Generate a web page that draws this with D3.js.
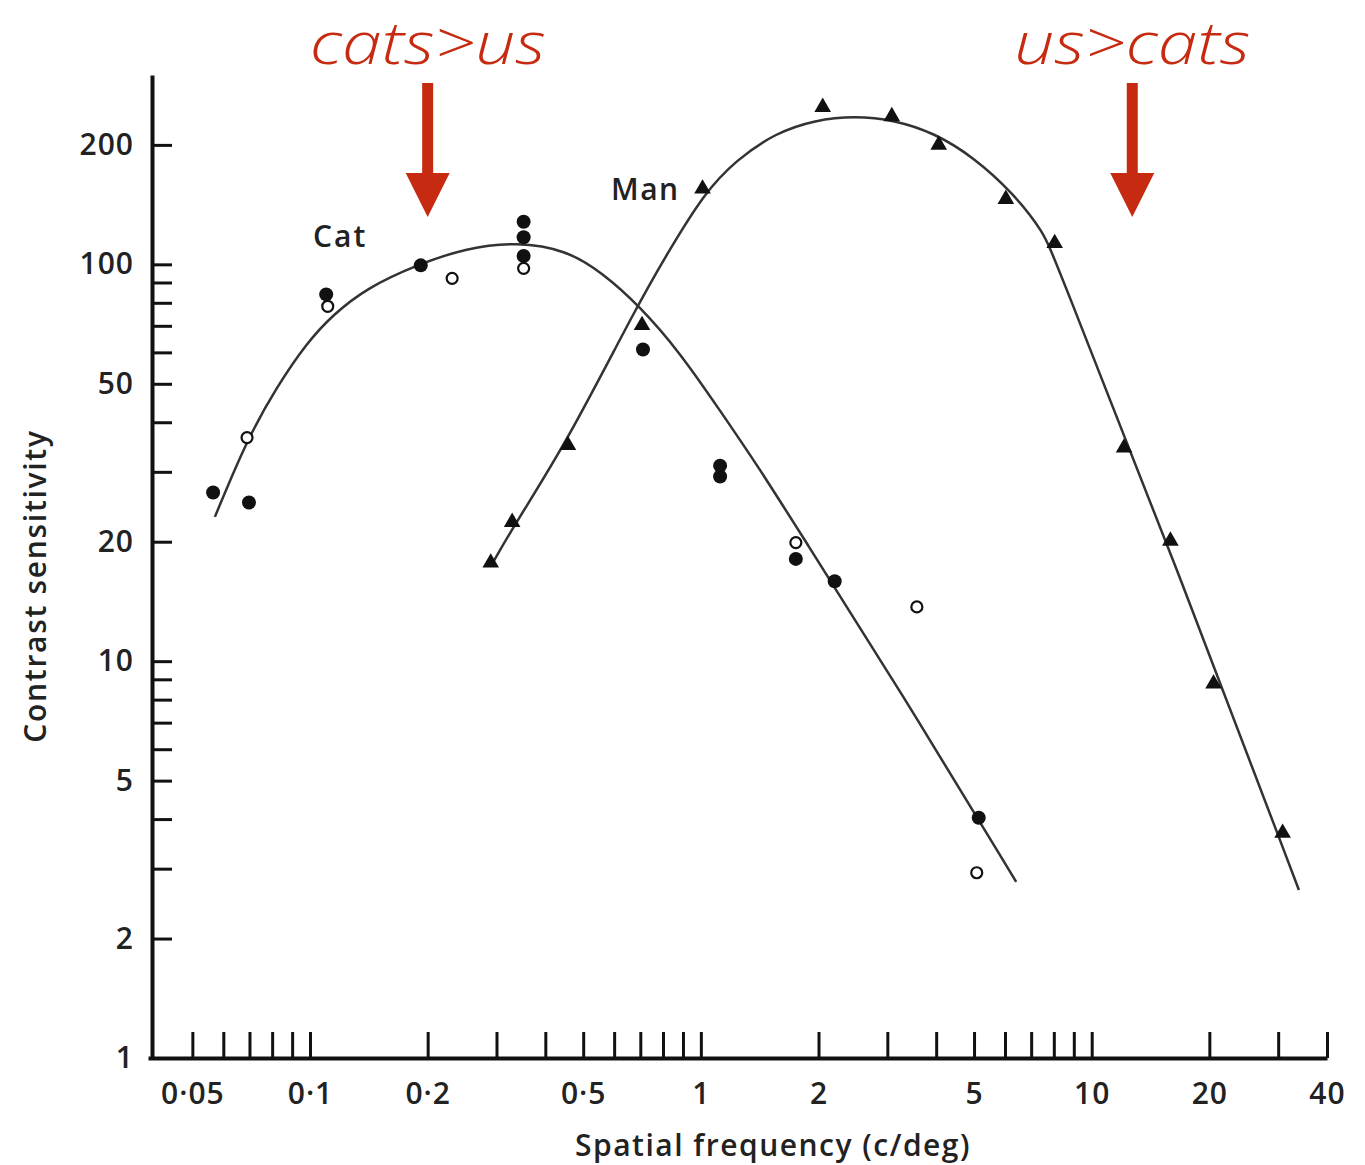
<!DOCTYPE html>
<html>
<head>
<meta charset="utf-8">
<script src="https://cdn.jsdelivr.net/npm/d3@7"></script>
<style>
  body { margin: 0; background: #fff; }
  svg { display: block; }
</style>
</head>
<body>
<div id="chart"></div>
<script>
// tick values (log axes)
var xTicks = [0.05, 0.06, 0.07, 0.08, 0.09, 0.1, 0.2, 0.3, 0.4, 0.5, 0.6, 0.7, 0.8, 0.9, 1, 2, 3, 4, 5, 6, 7, 8, 9, 10, 20, 30, 40];
var xLabels = [0.05, 0.1, 0.2, 0.5, 1, 2, 5, 10, 20, 40];
var yTicks = [2, 3, 4, 5, 6, 7, 8, 9, 10, 20, 30, 40, 50, 60, 70, 80, 90, 100, 200];
var yLabels = [1, 2, 5, 10, 20, 50, 100, 200];

// cat, filled circles
var catFilledX = [0.0565, 0.0698, 0.110, 0.192, 0.352, 0.352, 0.352, 0.711, 1.12, 1.12, 1.75, 2.20, 5.14];
var catFilledY = [26.6, 25.1, 84, 99.4, 128, 117, 105, 61, 31.1, 29.2, 18.1, 15.9, 4.03];
// cat, open circles
var catOpenX = [0.069, 0.111, 0.231, 0.352, 1.75, 3.57, 5.08];
var catOpenY = [36.6, 78.4, 92.2, 97.7, 19.9, 13.7, 2.93];
// man, triangles
var manX = [0.290, 0.329, 0.457, 0.707, 1.01, 2.05, 3.08, 4.06, 6.03, 8.04, 12.1, 15.9, 20.5, 30.8];
var manY = [17.7, 22.4, 35.0, 70.2, 155, 249, 236, 200, 146, 113, 34.5, 20.1, 8.77, 3.69];

// fitted curves
var catCurveX = [0.0571, 0.0689, 0.0822, 0.0981, 0.1144, 0.1397, 0.1875, 0.2517, 0.3378, 0.4532, 0.5604, 0.6926, 0.8816, 1.116, 1.412, 1.787, 3.23, 6.41];
var catCurveY = [23.1, 36.1, 49.1, 63.4, 74.6, 87.2, 99.7, 110.0, 113.9, 108.7, 95.1, 79.0, 60.2, 43.0, 30.6, 21.2, 8.45, 2.78];
var manCurveX = [0.2915, 0.3357, 0.4532, 0.6885, 0.8311, 1.021, 1.233, 1.551, 1.963, 2.470, 3.126, 3.955, 4.977, 6.297, 7.556, 8.015, 16.4, 33.9];
var manCurveY = [17.5, 22.3, 35.5, 79.0, 108.7, 151.3, 183.3, 214.4, 231.1, 236.6, 231.1, 214.4, 186.5, 151.3, 120.0, 103.8, 17.5, 2.65];

// annotations
var notes = [
  {text: "cats>us", freq: 0.2},
  {text: "us>cats", freq: 12.7}
];

var W = 1365, H = 1165;
var font = "'Open Sans', 'DejaVu Sans', sans-serif";
var red = "#c62a10";
var ink = "#222";

var svg = d3.select("#chart").append("svg")
  .attr("width", W)
  .attr("height", H);

var x = d3.scaleLog().domain([0.0385, 40]).range([148, 1327]);
var y = d3.scaleLog().domain([1, 300]).range([1058, 75]);

function fmt(d) { return String(d).replace("0.", "0·"); }

// x axis: ticks point up, labels below
svg.append("g")
  .attr("transform", "translate(0,1058)")
  .call(d3.axisTop(x).tickValues(xTicks).tickSize(26).tickSizeOuter(0).tickFormat(""));
var xAxisLabels = svg.append("g")
  .attr("class", "lab")
  .attr("transform", "translate(0,1058)")
  .call(d3.axisBottom(x).tickValues(xLabels).tickSize(0).tickPadding(25).tickFormat(fmt));
xAxisLabels.select(".domain").remove();

// y axis: ticks point right, labels on the left
svg.append("g")
  .attr("transform", "translate(152,0)")
  .call(d3.axisRight(y).tickValues(yTicks).tickSize(20).tickSizeOuter(0).tickFormat(""));
var yAxisLabels = svg.append("g")
  .attr("class", "lab")
  .attr("transform", "translate(152,0)")
  .call(d3.axisLeft(y).tickValues(yLabels).tickSize(0).tickPadding(18).tickFormat(d3.format("d")));
yAxisLabels.select(".domain").remove();

svg.selectAll(".domain").attr("stroke", "#111").attr("stroke-width", 4);
svg.selectAll(".tick line").attr("stroke", "#111").attr("stroke-width", 3);
svg.selectAll(".lab .tick text")
  .attr("fill", ink)
  .style("font-family", font)
  .style("font-size", "30px")
  .style("font-weight", "600")
  .style("letter-spacing", "1px");

function label(sel) {
  return sel.style("font-family", font)
    .style("font-size", "30px")
    .style("font-weight", "600")
    .style("fill", ink);
}

// axis titles
label(svg.append("text"))
  .attr("x", 773)
  .attr("y", 1156)
  .attr("text-anchor", "middle")
  .style("letter-spacing", "1.5px")
  .text("Spatial frequency (c/deg)");

label(svg.append("text"))
  .attr("transform", "translate(46,586) rotate(-90)")
  .attr("text-anchor", "middle")
  .style("letter-spacing", "1.7px")
  .text("Contrast sensitivity");

// curves
var line = d3.line()
  .x(function(d) { return x(d[0]); })
  .y(function(d) { return y(d[1]); })
  .curve(d3.curveBasis);

svg.append("path")
  .datum(d3.zip(catCurveX, catCurveY))
  .attr("d", line)
  .attr("fill", "none")
  .attr("stroke", "#333")
  .attr("stroke-width", 2.5);

svg.append("path")
  .datum(d3.zip(manCurveX, manCurveY))
  .attr("d", line)
  .attr("fill", "none")
  .attr("stroke", "#333")
  .attr("stroke-width", 2.5);

// markers
svg.append("g").selectAll("circle")
  .data(d3.zip(catOpenX, catOpenY))
  .enter()
  .append("circle")
  .attr("cx", function(d) { return x(d[0]); })
  .attr("cy", function(d) { return y(d[1]); })
  .attr("r", 5.5)
  .attr("fill", "#fff")
  .attr("stroke", "#111")
  .attr("stroke-width", 2.2);

svg.append("g").selectAll("circle")
  .data(d3.zip(catFilledX, catFilledY))
  .enter()
  .append("circle")
  .attr("cx", function(d) { return x(d[0]); })
  .attr("cy", function(d) { return y(d[1]); })
  .attr("r", 7)
  .attr("fill", "#111");

svg.append("g").selectAll("path")
  .data(d3.zip(manX, manY))
  .enter()
  .append("path")
  .attr("d", d3.symbol().type(d3.symbolTriangle).size(120))
  .attr("transform", function(d) { return "translate(" + x(d[0]) + "," + y(d[1]) + ")"; })
  .attr("fill", "#111");

// curve labels
label(svg.append("text"))
  .attr("x", 313).attr("y", 247)
  .style("letter-spacing", "2px")
  .text("Cat");
label(svg.append("text"))
  .attr("x", 611).attr("y", 200)
  .style("letter-spacing", "1.5px")
  .text("Man");

// red notes with arrows
notes.forEach(function(n) {
  var cx = x(n.freq);
  svg.append("text")
    .attr("x", cx)
    .attr("y", 64)
    .attr("text-anchor", "middle")
    .attr("textLength", 236)
    .attr("lengthAdjust", "spacingAndGlyphs")
    .style("font-family", font)
    .style("font-size", "58px")
    .style("font-style", "italic")
    .style("font-weight", "300")
    .style("fill", red)
    .text(n.text);
  svg.append("rect")
    .attr("x", cx - 5.5)
    .attr("y", 83)
    .attr("width", 11)
    .attr("height", 94)
    .attr("fill", red);
  svg.append("path")
    .attr("d", "M" + (cx - 22) + ",173 L" + (cx + 22) + ",173 L" + cx + ",217 Z")
    .attr("fill", red);
});
</script>
</body>
</html>
